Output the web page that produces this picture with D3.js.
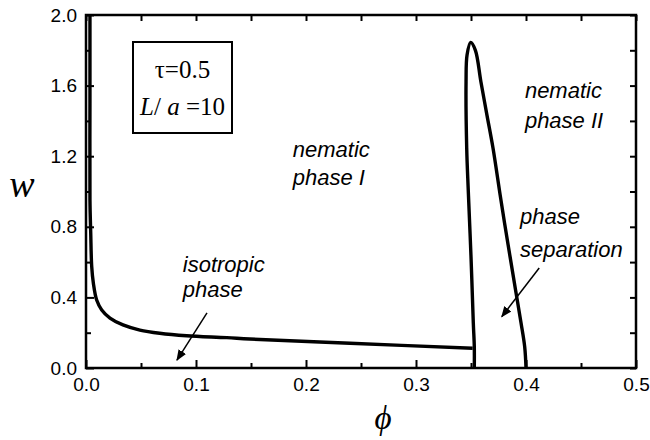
<!DOCTYPE html>
<html>
<head>
<meta charset="utf-8">
<script src="https://cdn.jsdelivr.net/npm/d3@7/dist/d3.min.js"></script>
<style>
  body { margin: 0; background: #fff; }
  svg { display: block; }
</style>
</head>
<body>
<script>

// ---- data ----

// isotropic / nematic I boundary
var isoPhi = [0.0036, 0.0036, 0.0036, 0.0043, 0.0052, 0.0067, 0.0097, 0.0143, 0.0218, 0.0336, 0.049, 0.067, 0.0915, 0.128, 0.149, 0.24, 0.3515];
var isoW   = [2.0,    1.5,    0.952,  0.765,  0.574,  0.48,   0.385,  0.329,  0.283,  0.244,  0.215, 0.197, 0.183,  0.172, 0.164, 0.140, 0.112];

// nematic I / nematic II coexistence loop (left branch up, right branch down)
var loopPhi = [0.3530, 0.3530, 0.3521, 0.3500, 0.3475, 0.3461, 0.3455, 0.3464, 0.3497, 0.3540, 0.3590, 0.3645, 0.3700, 0.3765, 0.3805, 0.3855, 0.3905, 0.3955, 0.3988, 0.4000];
var loopW   = [0,      0.121,  0.255,  0.631,  1.008,  1.246,  1.622,  1.773,  1.845,  1.80,   1.622,  1.433,  1.246,  0.980,  0.822,  0.631,  0.442,  0.255,  0.121,  0];

// axes
var xTicks = [0, 0.1, 0.2, 0.3, 0.4, 0.5];
var xMinor = [0.05, 0.15, 0.25, 0.35, 0.45];
var yTicks = [0, 0.4, 0.8, 1.2, 1.6, 2.0];
var yMinor = [0.2, 0.6, 1.0, 1.4, 1.8];

// region labels: [phi, w, text]
var labels = [
  [0.188, 1.195, "nematic"],
  [0.188, 1.037, "phase I"],
  [0.399, 1.530, "nematic"],
  [0.399, 1.360, "phase II"],
  [0.088, 0.544, "isotropic"],
  [0.088, 0.402, "phase"],
  [0.3945, 0.816, "phase"],
  [0.3945, 0.629, "separation"]
];

// arrows: [phiFrom, wFrom, phiTo, wTo]
var arrows = [
  [0.110, 0.312, 0.0827, 0.045],
  [0.412, 0.567, 0.378, 0.291]
];


// ---- layout ----
var width_outer = 650, height_outer = 440;
var margin = {top: 15, right: 14, bottom: 72, left: 86};
var width_inner = width_outer - margin.left - margin.right;
var height_inner = height_outer - margin.top - margin.bottom;

var outer = d3.select("body").append("svg")
  .attr("width", width_outer)
  .attr("height", height_outer);

outer.append("rect")
  .attr("width", width_outer)
  .attr("height", height_outer)
  .attr("fill", "#fff");

var defs = outer.append("defs");
defs.append("marker")
  .attr("id", "head")
  .attr("viewBox", "0 0 10 10")
  .attr("refX", 9)
  .attr("refY", 5)
  .attr("markerWidth", 11)
  .attr("markerHeight", 11)
  .attr("markerUnits", "userSpaceOnUse")
  .attr("orient", "auto")
  .append("path")
  .attr("d", "M0,1 L10,5 L0,9 Z")
  .attr("fill", "#000");

var inner = outer.append("g")
  .attr("transform", "translate(" + margin.left + "," + margin.top + ")");

// scales
var xScale = d3.scaleLinear().domain([0, 0.5]).range([0, width_inner]);
var yScale = d3.scaleLinear().domain([0, 2.0]).range([height_inner, 0]);

var fmt = d3.format(".1f");
var tickFont = "Liberation Sans, Arial, Helvetica, sans-serif";

// axes, ticks pointing inward
function styleAxis(g) {
  g.select(".domain").remove();
  g.selectAll(".tick line").attr("stroke", "#000").attr("stroke-width", 2);
  g.selectAll(".tick text")
    .attr("fill", "#000")
    .style("font-family", tickFont)
    .style("font-size", "19px");
}

inner.append("g")
  .attr("transform", "translate(0," + height_inner + ")")
  .call(d3.axisBottom(xScale).tickValues(xTicks).tickFormat(fmt).tickSize(-8).tickPadding(10))
  .call(styleAxis);
inner.append("g")
  .attr("transform", "translate(0," + height_inner + ")")
  .call(d3.axisBottom(xScale).tickValues(xMinor).tickFormat("").tickSize(-5))
  .call(styleAxis);

inner.append("g")
  .call(d3.axisLeft(yScale).tickValues(yTicks).tickFormat(fmt).tickSize(-8).tickPadding(9))
  .call(styleAxis);
inner.append("g")
  .call(d3.axisLeft(yScale).tickValues(yMinor).tickFormat("").tickSize(-5))
  .call(styleAxis);

// mirrored ticks top / right
inner.append("g")
  .call(d3.axisTop(xScale).tickValues(xTicks.concat(xMinor)).tickFormat("").tickSize(-6))
  .call(styleAxis);
inner.append("g")
  .attr("transform", "translate(" + width_inner + ",0)")
  .call(d3.axisRight(yScale).tickValues(yTicks.concat(yMinor)).tickFormat("").tickSize(-6))
  .call(styleAxis);

// frame
inner.append("rect")
  .attr("width", width_inner)
  .attr("height", height_inner)
  .attr("fill", "none")
  .attr("stroke", "#000")
  .attr("stroke-width", 2.5);

// curves
var line = d3.line()
  .x(function(d) { return xScale(d[0]); })
  .y(function(d) { return yScale(d[1]); })
  .curve(d3.curveCatmullRom.alpha(0.5));

var plots = inner.append("g").attr("class", "g_plots");

plots.append("path")
  .datum(d3.zip(isoPhi, isoW))
  .attr("d", line)
  .attr("fill", "none")
  .attr("stroke", "#000")
  .attr("stroke-width", 3.4);

plots.append("path")
  .datum(d3.zip(loopPhi, loopW))
  .attr("d", line)
  .attr("fill", "none")
  .attr("stroke", "#000")
  .attr("stroke-width", 3.4)
  .attr("stroke-linejoin", "round");

// region labels
inner.selectAll(".lbl")
  .data(labels)
  .enter().append("text")
  .attr("class", "lbl")
  .attr("x", function(d) { return xScale(d[0]); })
  .attr("y", function(d) { return yScale(d[1]); })
  .style("font-family", tickFont)
  .style("font-style", "italic")
  .style("font-size", "22px")
  .text(function(d) { return d[2]; });

// arrows
inner.selectAll(".arrow")
  .data(arrows)
  .enter().append("line")
  .attr("class", "arrow")
  .attr("x1", function(d) { return xScale(d[0]); })
  .attr("y1", function(d) { return yScale(d[1]); })
  .attr("x2", function(d) { return xScale(d[2]); })
  .attr("y2", function(d) { return yScale(d[3]); })
  .attr("stroke", "#000")
  .attr("stroke-width", 1.5)
  .attr("marker-end", "url(#head)");

// parameter box
var serif = "Liberation Serif, Times New Roman, serif";
inner.append("rect")
  .attr("x", 47).attr("y", 27)
  .attr("width", 99).attr("height", 91)
  .attr("fill", "#fff")
  .attr("stroke", "#000")
  .attr("stroke-width", 2);

inner.append("text")
  .attr("x", 96.5).attr("y", 63)
  .attr("text-anchor", "middle")
  .style("font-family", serif)
  .style("font-size", "25px")
  .text("\u03c4=0.5");

var t2 = inner.append("text")
  .attr("x", 96.5).attr("y", 100)
  .attr("text-anchor", "middle")
  .style("font-family", serif)
  .style("font-size", "25px");
t2.append("tspan").style("font-style", "italic").text("L");
t2.append("tspan").text("/ ");
t2.append("tspan").style("font-style", "italic").text("a");
t2.append("tspan").text(" =10");

// axis titles
outer.append("text")
  .attr("x", 22).attr("y", 197)
  .attr("text-anchor", "middle")
  .style("font-family", serif)
  .style("font-style", "italic")
  .style("font-size", "38px")
  .text("w");

outer.append("text")
  .attr("x", 383).attr("y", 429)
  .attr("text-anchor", "middle")
  .style("font-family", serif)
  .style("font-style", "italic")
  .style("font-size", "33px")
  .text("\u03d5");

</script>
</body>
</html>
